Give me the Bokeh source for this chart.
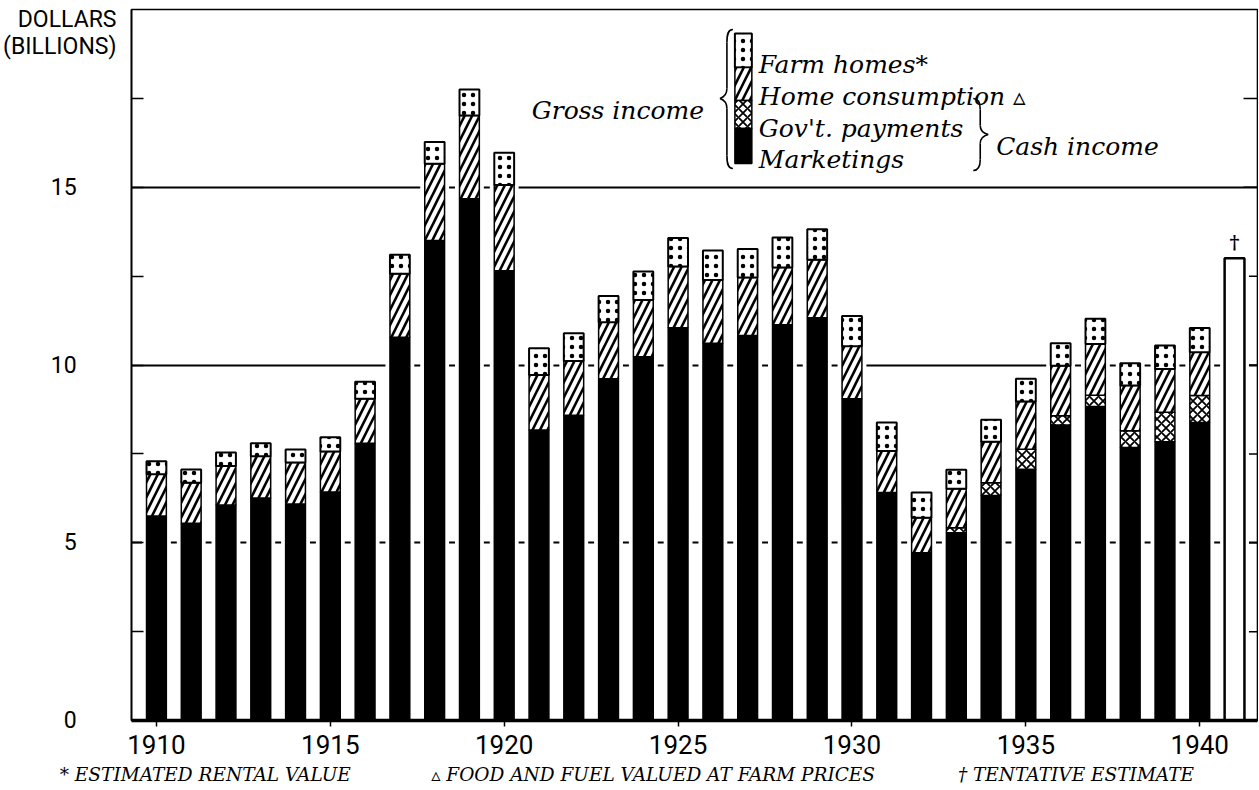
from bokeh.plotting import figure
from bokeh.models import FixedTicker, LinearAxis, Label, Range1d
from bokeh.embed import file_html
from bokeh.resources import INLINE

# ---------------- data (billions of dollars) ----------------
years = list(range(1910, 1941))
marketings = [5.75, 5.55, 6.06, 6.26, 6.09, 6.43, 7.80, 10.78, 13.50, 14.68,
              12.65, 8.17, 8.59, 9.61, 10.23, 11.05, 10.61, 10.83, 11.13, 11.33,
              9.05, 6.41, 4.72, 5.28, 6.33, 7.07, 8.31, 8.83, 7.68, 7.84, 8.38]
govt_payments = [0] * 23 + [0.14, 0.36, 0.56, 0.26, 0.32, 0.47, 0.83, 0.76]
home_consumption = [1.18, 1.14, 1.10, 1.17, 1.17, 1.14, 1.25, 1.79, 2.16, 2.34,
                    2.41, 1.55, 1.52, 1.59, 1.60, 1.72, 1.78, 1.63, 1.61, 1.63,
                    1.48, 1.17, 0.98, 1.10, 1.15, 1.34, 1.41, 1.44, 1.27, 1.22, 1.22]
farm_homes = [0.36, 0.37, 0.38, 0.37, 0.36, 0.40, 0.48, 0.53, 0.61, 0.73,
              0.91, 0.75, 0.78, 0.74, 0.80, 0.80, 0.83, 0.80, 0.85, 0.86,
              0.85, 0.80, 0.71, 0.53, 0.62, 0.64, 0.63, 0.71, 0.63, 0.66, 0.68]
estimate_year = [1941]
estimate_total = [13.0]

x_ticks = [1910, 1915, 1920, 1925, 1930, 1935, 1940]
y_labelled = [0, 5, 10, 15]
y_ticks_in = [2.5, 5, 7.5, 10, 12.5, 15, 17.5]
y_grid = [5, 10, 15]
y_title = ["DOLLARS", "(BILLIONS)"]
footnotes = ["* ESTIMATED RENTAL VALUE",
             "▵ FOOD AND FUEL VALUED AT FARM PRICES",
             "† TENTATIVE ESTIMATE"]
legend_labels = ["Farm homes*", "Home consumption ▵", "Gov't. payments", "Marketings"]

# ---------------- stacks ----------------
top_m = marketings
top_g = [a + b for a, b in zip(top_m, govt_payments)]
top_h = [a + b for a, b in zip(top_g, home_consumption)]
top_r = [a + b for a, b in zip(top_h, farm_homes)]

# ---------------- geometry ----------------
W, H = 1258, 789
FL, FR, FT, FB = 128, 1257, 9, 720          # frame edges in page pixels
ML, MR, MT, MB = FL, W - FR, FT, H - FB
PX_YEAR = 34.87
X0 = 1910 - (153 - FL) / PX_YEAR
X1 = X0 + (FR - FL) / PX_YEAR
Y0, Y1 = 0, 20
PX_UNIT = (FB - FT) / (Y1 - Y0)


def dx(px):
    return X0 + (px - FL) / PX_YEAR


def dy(py):
    return Y1 - (py - FT) / PX_UNIT


p = figure(width=W, height=H, x_range=Range1d(X0, X1), y_range=Range1d(Y0, Y1),
           output_backend="svg", toolbar_location=None,
           min_border_left=ML, min_border_right=MR, min_border_top=MT,
           min_border_bottom=MB)
p.background_fill_color = "white"
p.border_fill_color = "white"
p.outline_line_color = "black"
p.outline_line_width = 1.6

# grid
p.xgrid.visible = False
p.ygrid.ticker = FixedTicker(ticks=y_grid)
p.ygrid.grid_line_color = "black"
p.ygrid.grid_line_width = 1.8

TICK_FONT = "Roboto"
PAD = "\u00a0" * 7

# left axis: numeric labels plus the "DOLLARS (BILLIONS)" heading
ya = p.yaxis[0]
title_pos = [dy(19), dy(46)]
ya.ticker = FixedTicker(ticks=y_labelled + title_pos, minor_ticks=y_ticks_in)
overrides = {v: f"{v}{PAD}" for v in y_labelled}
overrides.update({v: t for v, t in zip(title_pos, y_title)})
ya.major_label_overrides = overrides
ya.axis_line_color = "black"
ya.axis_line_width = 1.6
ya.major_tick_in = 0
ya.major_tick_out = 0
ya.minor_tick_in = 12
ya.minor_tick_out = 0
ya.minor_tick_line_width = 1.5
ya.minor_tick_line_color = "black"
ya.major_label_text_font = TICK_FONT
ya.major_label_text_font_size = "23px"
ya.major_label_text_color = "black"
ya.major_label_standoff = 15

# right-side inward ticks
p.segment(x0=[X1 - 14 / PX_YEAR] * len(y_ticks_in), x1=[X1] * len(y_ticks_in),
          y0=y_ticks_in, y1=y_ticks_in, line_color="black", line_width=1.5)

# bottom axis
xa = p.xaxis[0]
xa.ticker = FixedTicker(ticks=x_ticks, minor_ticks=[])
xa.axis_line_color = "black"
xa.axis_line_width = 3.5
xa.major_tick_in = 0
xa.major_tick_out = 6
xa.major_tick_line_width = 1.5
xa.major_tick_line_color = "black"
xa.major_label_text_font = TICK_FONT
xa.major_label_text_font_size = "26px"
xa.major_label_text_color = "black"
xa.major_label_standoff = 8

# footnotes as a second, line-less axis below
fn_pos = [dx(202), dx(651), dx(1075)]
fa = LinearAxis(ticker=FixedTicker(ticks=fn_pos, minor_ticks=[]))
fa.major_label_overrides = {k: t for k, t in zip(fn_pos, footnotes)}
fa.axis_line_color = None
fa.major_tick_line_color = None
fa.minor_tick_line_color = None
fa.major_tick_in = 0
fa.major_tick_out = 0
fa.major_label_standoff = 7
fa.major_label_text_font = "DejaVu Serif"
fa.major_label_text_font_style = "italic"
fa.major_label_text_font_size = "18.5px"
fa.major_label_text_color = "black"
p.add_layout(fa, "below")

BW = 0.57
all_years = years + estimate_year
all_tops = top_r + estimate_total

# white halo behind bars (interrupts gridlines)
p.vbar(x=all_years, width=BW + 0.26, top=all_tops, bottom=0,
       fill_color="white", line_color=None)

DOT = dict(hatch_pattern=".", hatch_color="black", hatch_scale=9, hatch_weight=1.2)
DIAG = dict(hatch_pattern="/", hatch_color="black", hatch_scale=15, hatch_weight=2.6)
CROSS = dict(hatch_pattern="x", hatch_color="black", hatch_scale=9, hatch_weight=1.8)

# stacked segments
p.vbar(x=years, width=BW, bottom=0, top=top_m, fill_color="black",
       line_color="black", line_width=1.5)
p.vbar(x=years, width=BW, bottom=top_m, top=top_g, fill_color="white",
       line_color="black", line_width=1.5, **CROSS)
p.vbar(x=years, width=BW, bottom=top_g, top=top_h, fill_color="white",
       line_color="black", line_width=1.5, **DIAG)
p.vbar(x=years, width=BW, bottom=top_h, top=top_r, fill_color="white",
       line_color="black", line_width=2, **DOT)
# tentative 1941 estimate
p.vbar(x=estimate_year, width=BW, bottom=0, top=estimate_total,
       fill_color="white", line_color="black", line_width=2.5)
p.add_layout(Label(x=estimate_year[0], y=estimate_total[0] + 0.15, text="†",
                   text_align="center", text_baseline="bottom",
                   text_font="DejaVu Serif", text_font_style="bold",
                   text_font_size="19px", text_color="black"))

# ---------------- legend swatch ----------------
sl, sr = dx(733), dx(750)
edges = [dy(33), dy(67), dy(100), dy(128), dy(163)]
p.quad(left=[sl], right=[sr], top=[edges[0]], bottom=[edges[1]], fill_color="white",
       line_color="black", line_width=2, **DOT)
p.quad(left=[sl], right=[sr], top=[edges[1]], bottom=[edges[2]], fill_color="white",
       line_color="black", line_width=1.5, **DIAG)
p.quad(left=[sl], right=[sr], top=[edges[2]], bottom=[edges[3]], fill_color="white",
       line_color="black", line_width=1.5, **CROSS)
p.quad(left=[sl], right=[sr], top=[edges[3]], bottom=[edges[4]], fill_color="black",
       line_color="black", line_width=1.5)


def brace(pts_bez, pts_seg):
    for (a, b, c, d) in pts_bez:
        p.bezier(x0=[dx(a[0])], y0=[dy(a[1])], x1=[dx(b[0])], y1=[dy(b[1])],
                 cx0=[dx(c[0])], cy0=[dy(c[1])], cx1=[dx(d[0])], cy1=[dy(d[1])],
                 line_color="black", line_width=1.6)
    for (a, b) in pts_seg:
        p.segment(x0=[dx(a[0])], y0=[dy(a[1])], x1=[dx(b[0])], y1=[dy(b[1])],
                  line_color="black", line_width=1.6)


brace([((731, 29), (725, 42), (726, 29), (725, 34)),
       ((725, 88), (718, 98), (725, 94), (721, 97)),
       ((718, 98), (725, 108), (721, 99), (725, 102)),
       ((725, 155), (731, 168), (725, 163), (726, 168))],
      [((725, 42), (725, 88)), ((725, 108), (725, 155))])
brace([((972, 98), (979, 109), (977, 98), (979, 103)),
       ((979, 125), (987, 134), (979, 131), (983, 133)),
       ((987, 134), (979, 143), (983, 135), (979, 137)),
       ((979, 159), (972, 170), (979, 165), (977, 170))],
      [((979, 109), (979, 125)), ((979, 143), (979, 159))])

SERIF = "DejaVu Serif"


def txt(px, py, s, size="25px", align="left", baseline="alphabetic",
        font=SERIF, style="italic"):
    p.add_layout(Label(x=dx(px), y=dy(py), text=s, text_align=align,
                       text_baseline=baseline, text_font=font,
                       text_font_style=style, text_font_size=size,
                       text_color="black"))


for lab, base in zip(legend_labels, [64, 96, 128, 159]):
    txt(757, base, lab)
txt(702, 110, "Gross income", align="right")
txt(995, 146, "Cash income")

open("out.html", "w").write(file_html(p, INLINE))
